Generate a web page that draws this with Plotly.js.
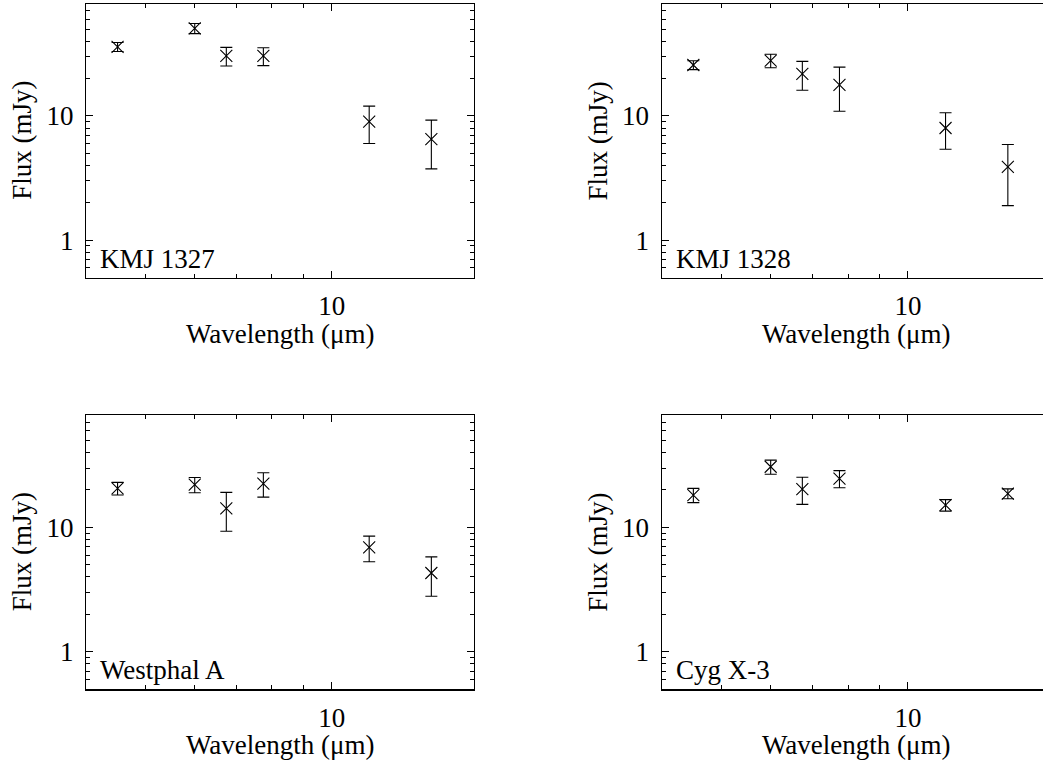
<!DOCTYPE html>
<html>
<head>
<meta charset="utf-8">
<script src="https://cdn.plot.ly/plotly-3.0.1.min.js"></script>
<style>
html, body { margin: 0; padding: 0; overflow: hidden; background: #fff; }
#chart { width: 1060px; height: 763px; }
</style>
</head>
<body>
<div id="chart"></div>
<script>
// Data
const wavelength = [4.5, 6.0, 6.75, 7.75, 11.5, 14.5];
const sourceNames = ["KMJ 1327", "KMJ 1328", "Westphal A", "Cyg X-3"];
const fluxKMJ1327 = [36.0, 50.7, 30.4, 30.4, 9.0, 6.5];
const errKMJ1327  = [3.0, 4.7, 5.2, 5.0, 3.0, 2.75];
const fluxKMJ1328 = [25.7, 27.9, 21.8, 17.8, 8.0, 3.9];
const errKMJ1328  = [2.1, 3.5, 5.7, 6.9, 2.6, 2.0];
const fluxWestphalA = [20.6, 22.1, 14.2, 22.5, 6.9, 4.3];
const errWestphalA  = [2.4, 3.1, 4.9, 5.0, 1.6, 1.5];
const fluxCygX3 = [18.2, 30.7, 20.3, 24.7, 15.1, 18.7];
const errCygX3  = [2.4, 4.0, 5.0, 3.9, 1.6, 1.7];

const xMajorTicks = [10];
const xMajorText = ["10"];
const xMinorTicks = [5, 6, 7, 8, 9];
const yMajorTicks = [1, 10];
const yMajorText = ["1", "10"];
const yMinorTicks = [0.6, 0.7, 0.8, 0.9, 2, 3, 4, 5, 6, 7, 8, 9, 20, 30, 40, 50, 60, 70, 80];
const xRange = [4, 17];
const yRange = [0.5, 80];

const fluxes = [fluxKMJ1327, fluxKMJ1328, fluxWestphalA, fluxCygX3];
const errs = [errKMJ1327, errKMJ1328, errWestphalA, errCygX3];

const W = 1060, H = 763;
const FONT = "Liberation Serif, Times New Roman, serif";
const FS = 27;

// panel frames in pixels
const frames = [
  {x0: 86, x1: 474, y0: 3.7, y1: 277.7},
  {x0: 661.7, x1: 1050.6, y0: 3.7, y1: 277.7},
  {x0: 86, x1: 474, y0: 415, y1: 689.3},
  {x0: 661.7, x1: 1050.6, y0: 415, y1: 689.3}
];

const traces = [];
const layout = {
  width: W, height: H,
  margin: {l: 0, r: 0, t: 0, b: 0},
  paper_bgcolor: "#fff", plot_bgcolor: "#fff",
  showlegend: false,
  font: {family: FONT, size: FS, color: "#000"},
  annotations: []
};

frames.forEach((f, i) => {
  const n = i === 0 ? "" : String(i + 1);
  traces.push({
    type: "scatter", mode: "markers",
    x: wavelength, y: fluxes[i],
    xaxis: "x" + n, yaxis: "y" + n,
    marker: {symbol: "x-thin", size: 12, color: "#000", line: {color: "#000", width: 1.1}},
    error_y: {type: "data", array: errs[i], visible: true, color: "#000", thickness: 1.1, width: 6},
    hoverinfo: "x+y"
  });
  const common = {
    type: "log", showgrid: false, zeroline: false,
    showline: true, linecolor: "#000", linewidth: 1.2, mirror: "ticks",
    ticks: "inside", ticklen: 7, tickwidth: 1, tickcolor: "#000",
    tickfont: {family: FONT, size: FS, color: "#000"},
    tickmode: "array", automargin: false, fixedrange: true
  };
  layout["xaxis" + n] = Object.assign({}, common, {
    domain: [f.x0 / W, f.x1 / W],
    range: [Math.log10(xRange[0]), Math.log10(xRange[1])],
    anchor: "y" + n,
    tickvals: xMajorTicks, ticktext: xMajorText,
    ticklabelstandoff: 4,
    minor: {tickmode: "array", tickvals: xMinorTicks, ticks: "inside", ticklen: 4, tickwidth: 1, tickcolor: "#000", showgrid: false}
  });
  layout["yaxis" + n] = Object.assign({}, common, {
    domain: [1 - f.y1 / H, 1 - f.y0 / H],
    range: [Math.log10(yRange[0]), Math.log10(yRange[1])],
    anchor: "x" + n,
    tickvals: yMajorTicks, ticktext: yMajorText,
    ticklabelstandoff: 6,
    minor: {tickmode: "array", tickvals: yMinorTicks, ticks: "inside", ticklen: 4, tickwidth: 1, tickcolor: "#000", showgrid: false}
  });
  // axis titles
  layout.annotations.push({
    xref: "paper", yref: "paper", showarrow: false,
    x: ((f.x0 + f.x1) / 2) / W, y: 1 - (f.y1 + 56) / H,
    xanchor: "center", yanchor: "middle",
    text: "Wavelength (\u03bcm)", font: {family: FONT, size: FS, color: "#000"}
  });
  layout.annotations.push({
    xref: "paper", yref: "paper", showarrow: false,
    x: (f.x0 - 64) / W, y: 1 - ((f.y0 + f.y1) / 2) / H,
    xanchor: "center", yanchor: "middle", textangle: -90,
    text: "Flux (mJy)", font: {family: FONT, size: FS, color: "#000"}
  });
  // panel label
  layout.annotations.push({
    xref: "x" + n + " domain", yref: "y" + n + " domain", showarrow: false,
    x: 12 / (f.x1 - f.x0), y: 19 / (f.y1 - f.y0),
    xanchor: "left", yanchor: "middle",
    text: sourceNames[i], font: {family: FONT, size: FS, color: "#000"}
  });
});

Plotly.newPlot("chart", traces, layout, {displayModeBar: false, staticPlot: true});
</script>
</body>
</html>
